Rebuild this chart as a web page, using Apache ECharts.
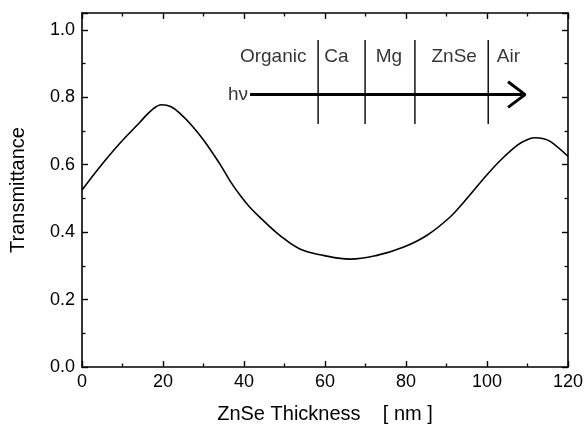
<!DOCTYPE html>
<html>
<head>
<meta charset="utf-8">
<script src="https://cdn.jsdelivr.net/npm/echarts@6/dist/echarts.min.js"></script>
<style>
  html, body { margin: 0; padding: 0; background: #fff; }
  #chart { width: 587px; height: 434px; }
</style>
</head>
<body>
<div id="chart"></div>
<script>
// transmittance curve
var thickness = [0, 4.3, 9.3, 14.3, 17, 19.7, 22, 24.3, 27, 30.1, 34.1, 36.5, 39, 41.5, 44.8, 48.9, 53.8, 59.6, 66.2, 72.8, 79.3, 85.1, 90.9, 94.2, 100, 103.4, 107.5, 109.5, 111.7, 114, 115.8, 120];
var transmittance = [0.525, 0.592, 0.663, 0.726, 0.760, 0.778, 0.772, 0.751, 0.718, 0.672, 0.601, 0.553, 0.510, 0.473, 0.434, 0.390, 0.350, 0.331, 0.320, 0.331, 0.355, 0.390, 0.445, 0.488, 0.570, 0.614, 0.658, 0.672, 0.680, 0.677, 0.668, 0.625];

// layer sketch (inset)
var layerNames = ['Organic', 'Ca', 'Mg', 'ZnSe', 'Air'];
var layerLabelX = [47.2, 62.8, 75.8, 91.9, 105.3];
var layerLabelY = 0.921;
var boundaryX = [58.3, 69.9, 82.2, 100.3];
var boundaryY = [0.721, 0.970];
var arrowX = [41.5, 109.4];
var arrowY = 0.808;
var hvX = 38.5;

var font = '"Liberation Sans", Arial, sans-serif';

var curve = thickness.map(function (x, i) { return [x, transmittance[i]]; });

var series = [
  {
    name: 'T',
    type: 'line',
    data: curve,
    smooth: 0.4,
    showSymbol: false,
    lineStyle: { color: '#000', width: 1.6 },
    z: 5
  },
  {
    // hv arrow shaft
    type: 'line',
    data: [[arrowX[0], arrowY], [arrowX[1], arrowY]],
    showSymbol: false,
    lineStyle: { color: '#000', width: 3 },
    silent: true
  },
  {
    // arrow head
    type: 'line',
    data: [[arrowX[1] - 4.2, arrowY + 0.038], [arrowX[1], arrowY], [arrowX[1] - 4.2, arrowY - 0.038]],
    showSymbol: false,
    lineStyle: { color: '#000', width: 3 },
    silent: true
  },
  {
    type: 'scatter',
    symbolSize: 0,
    data: layerNames.map(function (n, i) { return { name: n, value: [layerLabelX[i], layerLabelY] }; })
      .concat([{ name: 'h\u03bd', value: [hvX, arrowY] }]),
    label: {
      show: true,
      position: 'inside',
      formatter: '{b}',
      color: '#000',
      fontFamily: font,
      fontSize: 19
    },
    silent: true
  }
];

boundaryX.forEach(function (x) {
  series.push({
    type: 'line',
    data: [[x, boundaryY[0]], [x, boundaryY[1]]],
    showSymbol: false,
    lineStyle: { color: '#000', width: 1.4 },
    silent: true
  });
});

function axisStyle() {
  return {
    axisLine: { show: true, onZero: false, lineStyle: { color: '#000', width: 1.6 } },
    axisTick: { show: true, inside: true, length: 6, lineStyle: { color: '#000', width: 1.4 } },
    minorTick: { show: true, splitNumber: 2, length: 3.5, lineStyle: { color: '#000', width: 1.3 } },
    splitLine: { show: false },
    minorSplitLine: { show: false }
  };
}

var chart = echarts.init(document.getElementById('chart'));
chart.setOption({
  backgroundColor: '#fff',
  animation: false,
  grid: { left: 82, right: 19, top: 13, bottom: 67 },
  xAxis: [
    Object.assign({
      type: 'value', min: 0, max: 120, interval: 20, position: 'bottom',
      name: 'ZnSe Thickness    [ nm ]',
      nameLocation: 'middle', nameGap: 37,
      nameTextStyle: { color: '#000', fontFamily: font, fontSize: 20 },
      axisLabel: { color: '#000', fontFamily: font, fontSize: 18, margin: 6 }
    }, axisStyle()),
    Object.assign({
      type: 'value', min: 0, max: 120, interval: 20, position: 'top',
      axisLabel: { show: false }
    }, axisStyle())
  ],
  yAxis: [
    Object.assign({
      type: 'value', min: 0, max: 1.05, interval: 0.2, position: 'left',
      name: 'Transmittance',
      nameLocation: 'middle', nameGap: 54,
      nameTextStyle: { color: '#000', fontFamily: font, fontSize: 20 },
      axisLabel: {
        color: '#000', fontFamily: font, fontSize: 18, margin: 7, showMaxLabel: false,
        formatter: function (v) { return v.toFixed(1); }
      }
    }, axisStyle()),
    Object.assign({
      type: 'value', min: 0, max: 1.05, interval: 0.2, position: 'right',
      axisLabel: { show: false }
    }, axisStyle())
  ],
  series: series
});
</script>
</body>
</html>
